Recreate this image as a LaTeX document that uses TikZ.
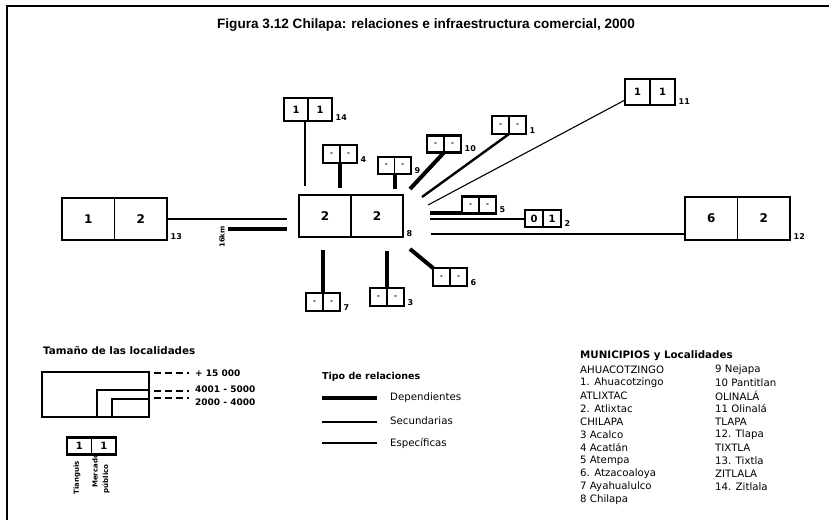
\documentclass[tikz,border=0pt]{standalone}
\usepackage{fontspec}
\setmainfont{DejaVu Sans}
\newfontfamily\titlefont{Liberation Sans}
\usetikzlibrary{calc}
\tikzset{
  boxst/.style={draw, line width=2.2pt, inner sep=0pt, outer sep=0pt},
  divst/.style={line width=1.2pt},
  bignum/.style={font=\bfseries\fontsize{12}{12}\selectfont, inner sep=0pt},
  smallnum/.style={font=\bfseries\fontsize{10}{10}\selectfont, inner sep=0pt},
  dashnum/.style={font=\bfseries\fontsize{7}{7}\selectfont, inner sep=0pt},
  lblst/.style={font=\bfseries\fontsize{8}{8}\selectfont, inner sep=0.5pt, anchor=south west},
  dep/.style={line width=4pt},
  sec/.style={line width=2.4pt},
  esp/.style={line width=1.1pt},
  listst/.style={font=\fontsize{10.2}{10.2}\selectfont, anchor=west, inner sep=0pt},
  headst/.style={font=\bfseries\fontsize{10.3}{10.3}\selectfont, anchor=west, inner sep=0pt},
  legdash/.style={line width=1.8pt, dash pattern=on 7pt off 4pt},
  rotlbl/.style={rotate=90, font=\bfseries\fontsize{7}{7}\selectfont, inner sep=0pt},
}
% #1 name, #2 centre, #3 width, #4 height, #5 left, #6 right, #7 label, #8 text style
\newcommand{\cellbox}[8]{%
  \node[boxst, minimum width=#3pt, minimum height=#4pt] (#1) at #2 {};
  \draw[divst] (#1.north) -- (#1.south);
  \node[#8] (#1l) at ($(#1.center)!0.5!(#1.west)$) {#5};
  \node[#8] (#1r) at ($(#1.center)!0.5!(#1.east)$) {#6};
  \node[lblst, xshift=3pt] (#1n) at (#1.south east) {#7};
}
\begin{document}
\begin{tikzpicture}[x=1pt,y=-1pt]
\useasboundingbox (0,0) rectangle (829,520);
% frame
\draw[line width=2pt] (7,520) -- (7,6) -- (829,6);
% title
\node[font=\titlefont\bfseries\fontsize{13.6}{13.6}\selectfont, inner sep=0pt] (title) at (426,25)
  {Figura 3.12 Chilapa: relaciones e infraestructura comercial, 2000};

% boxes
\cellbox{b8}{(351,216)}{104}{42}{2}{2}{8}{bignum}
\cellbox{b13}{(114.5,219)}{105}{42}{1}{2}{13}{bignum}
\cellbox{b12}{(737.5,218.5)}{105}{43}{6}{2}{12}{bignum}
\cellbox{b14}{(308,109.5)}{48}{23}{1}{1}{14}{smallnum}
\cellbox{b11}{(650,92)}{50}{26}{1}{1}{11}{smallnum}
\cellbox{b4}{(340,154)}{34}{18}{-}{-}{4}{dashnum}
\cellbox{b9}{(394.5,165.5)}{33}{17}{-}{-}{9}{dashnum}
\cellbox{b10}{(444,144)}{34}{17}{-}{-}{10}{dashnum}
\cellbox{b1}{(509,125)}{34}{18}{-}{-}{1}{dashnum}
\cellbox{b5}{(479,205)}{34}{17}{-}{-}{5}{dashnum}
\cellbox{b2}{(543,218.5)}{36}{17}{0}{1}{2}{smallnum}
\cellbox{b6}{(450,277)}{34}{18}{-}{-}{6}{dashnum}
\cellbox{b3}{(387,297)}{34}{18}{-}{-}{3}{dashnum}
\cellbox{b7}{(323,302)}{34}{18}{-}{-}{7}{dashnum}

% connector free ends
\coordinate (e14) at (305,186);
\coordinate (e4) at (340,188);
\coordinate (e9) at (394.5,189);
\coordinate (e10) at (410,189);
\coordinate (e1) at (422,197);
\coordinate (e11) at (428,205);
\coordinate (e5) at (430,213);
\coordinate (e2) at (430,219);
\coordinate (e12) at (431,234);
\coordinate (e6) at (410,249);
\coordinate (e3) at (387,251);
\coordinate (e7) at (323,250);
\coordinate (e13) at (287,219);
\coordinate (sA) at (228,229);
\coordinate (sB) at (287,229);

% connectors
\draw[sec] (e14 |- b14.south) -- (e14);
\draw[dep] (b4.south) -- (e4);
\draw[dep] (b9.south) -- (e9);
\draw[dep] (b10.south) -- (e10);
\draw[sec] (b1.south) -- (e1);
\draw[esp] ($(b11.south west)+(0,-5)$) -- (e11);
\draw[dep] (e5) -- (e5 -| b5.west);
\draw[line width=1.6pt] (e2) -- (e2 -| b2.west);
\draw[esp] (e12) -- (e12 -| b12.west);
\draw[dep] (b6.north west) -- (e6);
\draw[dep] (b3.north) -- (e3);
\draw[dep] (b7.north) -- (e7);
\draw[esp] (b13.east) -- (e13);
\draw[line width=3.5pt] (sA) -- (sB);
\node[rotlbl] (km) at (222,237) {16km};

% legend: size
\node[headst] (tam) at (43,351) {Tamaño de las localidades};
\draw[line width=2.2pt] (42,372) rectangle (149,417);
\draw[line width=2pt] (97,417) -- (97,390) -- (149,390);
\draw[line width=2pt] (112,417) -- (112,399) -- (149,399);
\coordinate (d1a) at (154,373); \coordinate (d1b) at (189,373);
\coordinate (d2a) at (154,391); \coordinate (d2b) at (189,391);
\coordinate (d3a) at (154,398); \coordinate (d3b) at (189,398);
\draw[legdash] (d1a) -- (d1b);
\draw[legdash] (d2a) -- (d2b);
\draw[legdash] (d3a) -- (d3b);
\node[listst, font=\bfseries\fontsize{9}{9}\selectfont] (s1) at (195,373) {+ 15 000};
\node[listst, font=\bfseries\fontsize{9}{9}\selectfont] (s2) at (195,389) {4001 - 5000};
\node[listst, font=\bfseries\fontsize{9}{9}\selectfont] (s3) at (195,402) {2000 - 4000};

\cellbox{bl}{(91.5,446)}{49}{17}{1}{1}{}{smallnum}
\node[rotlbl] (tia) at (77,478) {Tianguis};
\node[rotlbl] (mer) at (95,471) {Mercado};
\node[rotlbl] (pub) at (106,479) {público};

% legend: relations
\node[headst, font=\bfseries\fontsize{9.5}{9.5}\selectfont] (tipo) at (322,377) {Tipo de relaciones};
\coordinate (r1a) at (322,398); \coordinate (r1b) at (377,398);
\coordinate (r2a) at (322,422); \coordinate (r2b) at (377,422);
\coordinate (r3a) at (322,443); \coordinate (r3b) at (377,443);
\draw[dep] (r1a) -- (r1b);
\draw[sec] (r2a) -- (r2b);
\draw[esp] (r3a) -- (r3b);
\node[listst] (t1) at (390,398) {Dependientes};
\node[listst] (t2) at (390,421) {Secundarias};
\node[listst] (t3) at (390,443) {Específicas};

% legend: municipios
\node[headst] (mun) at (580,356) {MUNICIPIOS y Localidades};
\foreach \t [count=\i from 0] in {AHUACOTZINGO, 1. Ahuacotzingo, ATLIXTAC, 2. Atlixtac, CHILAPA, 3 Acalco, 4 Acatlán, 5 Atempa, 6. Atzacoaloya, 7 Ayahualulco, 8 Chilapa}
  \node[listst] (ml\i) at (580,{369.5+13.05*\i}) {\t};
\foreach \t [count=\i from 0] in {9 Nejapa, 10 Pantitlan, OLINALÁ, 11 Olinalá, TLAPA, 12. Tlapa, TIXTLA, 13. Tixtla, ZITLALA, 14. Zitlala}
  \node[listst] (mr\i) at (715,{369.5+13.05*\i}) {\t};
\end{tikzpicture}
\end{document}
